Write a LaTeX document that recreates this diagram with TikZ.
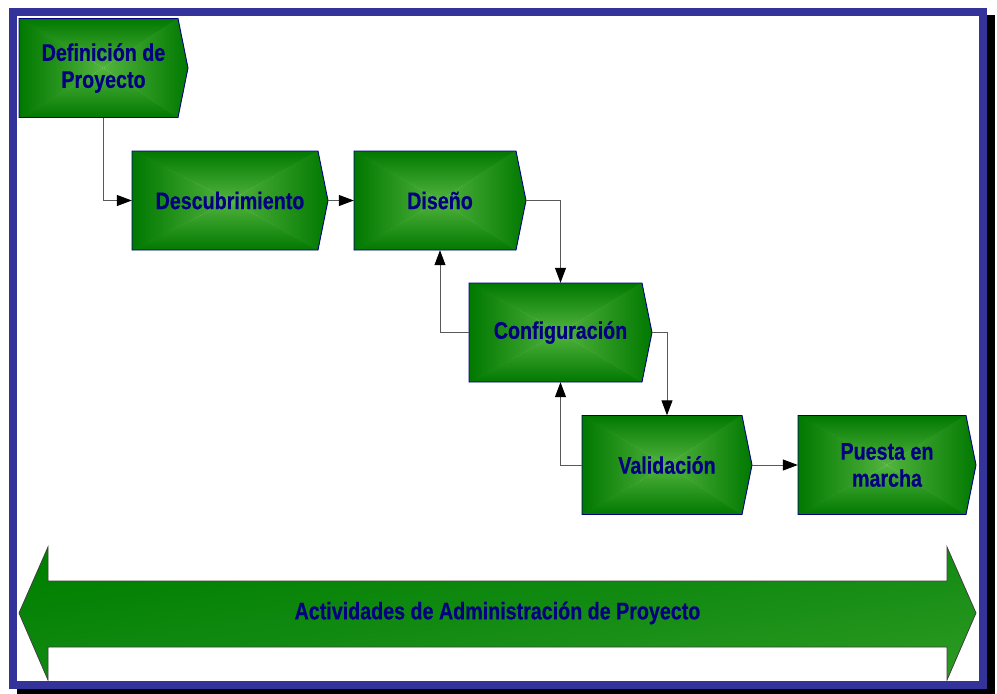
\documentclass[tikz,border=0pt]{standalone}
\usepackage{fontspec}
\newfontfamily\lblfont{Liberation Sans}[FakeStretch=0.82, BoldFeatures={FakeBold=0.4}]
\usetikzlibrary{arrows.meta}

\definecolor{framebl}{RGB}{51,51,153}
\definecolor{txtnavy}{RGB}{0,0,128}
\definecolor{boxdk}{RGB}{0,120,0}
\definecolor{boxlt}{RGB}{82,180,62}
\definecolor{bandA}{RGB}{84,182,56}
\definecolor{bandB}{RGB}{45,155,35}
\definecolor{bandC}{RGB}{18,138,18}
\definecolor{bandD}{RGB}{0,128,0}

% diagonal gradient for the long double arrow (light at the bottom)
\pgfdeclareverticalshading{bandglow}{100bp}{color(0bp)=(bandA); color(25bp)=(bandB); color(50bp)=(bandC); color(70bp)=(bandD); color(100bp)=(bandD)}

\tikzset{
  lbl/.style={font=\lblfont\bfseries\fontsize{24}{27}\selectfont, text=txtnavy, align=center},
  stepbox/.style={lbl, rectangle, minimum height=99, inner sep=0pt},
  stepline/.style={draw=txtnavy, line width=0.9pt, line join=miter},
  link/.style={draw=black!65, line width=1pt,
    -{Triangle[length=15pt,width=11pt,color=black]}},
}

% process step: name, centre x, centre y, full width, label
\newcommand\procstep[5]{%
  \begin{scope}
    \clip (#2-#4/2,#3-49.5) -- (#2+#4/2-10,#3-49.5) -- (#2+#4/2,#3)
      -- (#2+#4/2-10,#3+49.5) -- (#2-#4/2,#3+49.5) -- cycle;
    \shade[top color=boxdk, bottom color=boxlt]
      (#2-#4/2-1,#3-50) -- (#2+#4/2-9,#3-50) -- (#2,#3) -- cycle;
    \shade[top color=boxlt, bottom color=boxdk]
      (#2-#4/2-1,#3+50) -- (#2+#4/2-9,#3+50) -- (#2,#3) -- cycle;
    \shade[left color=boxdk, right color=boxlt]
      (#2-#4/2,#3-50) -- (#2,#3) -- (#2-#4/2,#3+50) -- cycle;
    \shade[left color=boxlt, right color=boxdk]
      (#2+#4/2-10,#3-50) -- (#2+#4/2+1,#3) -- (#2+#4/2-10,#3+50) -- (#2,#3) -- cycle;
  \end{scope}
  \path[stepline] (#2-#4/2,#3-49.5) -- (#2+#4/2-10,#3-49.5) -- (#2+#4/2,#3)
      -- (#2+#4/2-10,#3+49.5) -- (#2-#4/2,#3+49.5) -- cycle;
  \node[stepbox, minimum width=#4] (#1) at (#2,#3) {#5};
}

\begin{document}
\begin{tikzpicture}[x=1pt,y=-1pt]
  \useasboundingbox (0,0) rectangle (997,694);

  % framed sheet with drop shadow
  \fill[black] (17,15) rectangle (995,697);
  \draw[framebl, line width=8pt, fill=white] (13,12) rectangle (983,685);

  % project management band
  \begin{scope}
    \clip (19,613) -- (48,547) -- (48,581) -- (947,581) -- (947,547) -- (976,613)
      -- (947,680) -- (947,647) -- (48,647) -- (48,680) -- cycle;
    \begin{scope}[transform canvas={rotate around={8:(497.5,613)}}]
      \shade[shading=bandglow] (-200,481.3) rectangle (1200,744.7);
    \end{scope}
  \end{scope}
  \draw[black!75, line width=0.8pt]
    (19,613) -- (48,547) -- (48,581) -- (947,581) -- (947,547) -- (976,613)
    -- (947,680) -- (947,647) -- (48,647) -- (48,680) -- cycle;
  \node[lbl] (band) at (497.5,613) {Actividades de Administración de Proyecto};

  % process steps
  \procstep{def}{103.5}{68}{169}{Definición de\\Proyecto}
  \procstep{desc}{230}{200.5}{196}{Descubrimiento}
  \procstep{dis}{440}{200.5}{172}{Diseño}
  \procstep{conf}{560.5}{332.5}{183}{Configuración}
  \procstep{val}{667}{465}{170}{Validación}
  \procstep{pm}{887}{465}{178}{Puesta en\\marcha}

  % flow between steps
  \draw[link] (def.south) |- (desc.west);
  \draw[link] (desc.east) -- (dis.west);
  \draw[link] (dis.east) -| (conf.north);
  \draw[link] (conf.west) -| (dis.south);
  \draw[link] (conf.east) -| (val.north);
  \draw[link] (val.west) -| (conf.south);
  \draw[link] (val.east) -- (pm.west);
\end{tikzpicture}
\end{document}
